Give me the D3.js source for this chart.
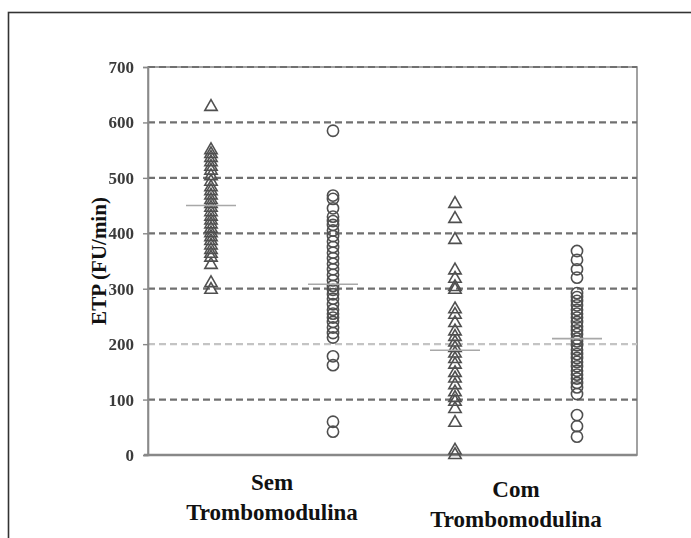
<!DOCTYPE html>
<html>
<head>
<meta charset="utf-8">
<script src="https://cdn.jsdelivr.net/npm/d3@7"></script>
<style>
  html, body { margin: 0; padding: 0; background: #fff; }
  svg { display: block; }
</style>
</head>
<body>
<svg id="chart" width="691" height="538"></svg>
<script>
// ETP (FU/min) values per group, without and with thrombomodulin
const seriesNames = ["semA", "semB", "comA", "comB"];
const seriesShapes = ["triangle", "circle", "triangle", "circle"];

const semA = [630, 552, 545, 538, 530, 522, 515, 505, 495, 485, 478, 470, 462, 455, 448,
              440, 432, 425, 418, 410, 402, 395, 388, 380, 372, 365, 358, 345, 312, 300];
const semB = [585, 468, 462, 445, 430, 422, 415, 405, 395, 385, 375, 365, 355, 345, 335,
              325, 315, 305, 298, 290, 282, 272, 262, 255, 248, 240, 230, 220, 212, 178,
              162, 60, 42];
const comA = [455, 428, 390, 335, 320, 305, 300, 265, 255, 240, 225, 215, 205, 195, 185,
              175, 165, 150, 140, 128, 115, 105, 98, 85, 60, 10, 2];
const comB = [368, 352, 335, 320, 292, 285, 278, 270, 262, 255, 248, 240, 232, 225, 218,
              210, 205, 198, 190, 182, 175, 168, 160, 152, 145, 138, 130, 122, 110, 72,
              52, 33];
const seriesValues = [semA, semB, comA, comB];

// Group averages shown as horizontal bars
const seriesMeans = [450, 308, 189, 210];

const yTicks = [0, 100, 200, 300, 400, 500, 600, 700];
const groupLabels = [["Sem", "Trombomodulina"], ["Com", "Trombomodulina"]];
const yTitle = "ETP (FU/min)";

const serif = "'Liberation Serif', 'Times New Roman', serif";
const svg = d3.select("#chart");

// outer frame
svg.append("rect")
  .attr("x", 8.5).attr("y", 12.5)
  .attr("width", 720).attr("height", 560)
  .attr("fill", "none").attr("stroke", "#333").attr("stroke-width", 1.6);

const plot = { left: 148, right: 637, top: 67, bottom: 455 };

const y = d3.scaleLinear().domain([0, 700]).range([plot.bottom, plot.top]);
const x = d3.scaleBand().domain(seriesNames).range([150, 638]);

const soft = svg.append("defs").append("filter").attr("id", "soft");
soft.append("feGaussianBlur").attr("stdDeviation", 0.45);

const g = svg.append("g").attr("filter", "url(#soft)");

// frame of the plotting area
g.append("rect")
  .attr("x", plot.left).attr("y", plot.top)
  .attr("width", plot.right - plot.left).attr("height", plot.bottom - plot.top)
  .attr("fill", "none").attr("stroke", "#8a8a8a").attr("stroke-width", 1.6);

// dashed grid
g.append("g").selectAll("line")
  .data(yTicks.filter(t => t > 0))
  .join("line")
  .attr("x1", plot.left).attr("x2", plot.right)
  .attr("y1", d => y(d)).attr("y2", d => y(d))
  .attr("stroke", d => d === 200 ? "#c4c4c4" : "#707070")
  .attr("stroke-width", 2.2)
  .attr("stroke-dasharray", "7,4");

// bottom axis line
g.append("line")
  .attr("x1", plot.left - 4).attr("x2", plot.right)
  .attr("y1", y(0)).attr("y2", y(0))
  .attr("stroke", "#888").attr("stroke-width", 2.4);

// left axis with ticks
const yAxis = d3.axisLeft(y).tickValues(yTicks).tickSize(5).tickPadding(9)
  .tickFormat(d3.format("d"));
const ax = g.append("g").attr("transform", `translate(${plot.left},0)`).call(yAxis);
ax.select(".domain").attr("stroke", "#8a8a8a").attr("stroke-width", 1.6);
ax.selectAll(".tick line").attr("stroke", "#888").attr("stroke-width", 1.4);
ax.selectAll(".tick text")
  .attr("font-family", serif).attr("font-weight", "bold")
  .attr("font-size", 17).attr("fill", "#3a3a3a");

// markers
const tri = d3.symbol().type(d3.symbolTriangle).size(66);
seriesNames.forEach((name, i) => {
  const cx = x(name) + x.bandwidth() / 2;
  const layer = g.append("g");
  if (seriesShapes[i] === "triangle") {
    layer.selectAll("path").data(seriesValues[i]).join("path")
      .attr("d", tri)
      .attr("transform", d => `translate(${cx},${y(d) + 1})`)
      .attr("fill", "none").attr("stroke", "#505050").attr("stroke-width", 1.6);
  } else {
    layer.selectAll("circle").data(seriesValues[i]).join("circle")
      .attr("cx", cx).attr("cy", d => y(d)).attr("r", 5.6)
      .attr("fill", "none").attr("stroke", "#505050").attr("stroke-width", 1.6);
  }
  // average bar
  g.append("line")
    .attr("x1", cx - 25).attr("x2", cx + 25)
    .attr("y1", y(seriesMeans[i])).attr("y2", y(seriesMeans[i]))
    .attr("stroke", "#a8a8a8").attr("stroke-width", 1.6);
});

// group labels
groupLabels.forEach((lines, k) => {
  const a = x(seriesNames[2 * k]) + x.bandwidth() / 2;
  const b = x(seriesNames[2 * k + 1]) + x.bandwidth() / 2;
  const cx = (a + b) / 2;
  const baseY = k === 0 ? 490 : 497;
  const t = svg.append("text")
    .attr("text-anchor", "middle")
    .attr("font-family", serif)
    .attr("font-weight", "bold").attr("font-size", 23).attr("fill", "#111");
  lines.forEach((s, j) => {
    t.append("tspan").attr("x", cx).attr("y", baseY + j * 30).text(s);
  });
});

// y title
svg.append("text")
  .attr("transform", `translate(106,${(plot.top + plot.bottom) / 2}) rotate(-90)`)
  .attr("text-anchor", "middle")
  .attr("font-family", serif)
  .attr("font-weight", "bold").attr("font-size", 21).attr("fill", "#111")
  .text(yTitle);
</script>
</body>
</html>
